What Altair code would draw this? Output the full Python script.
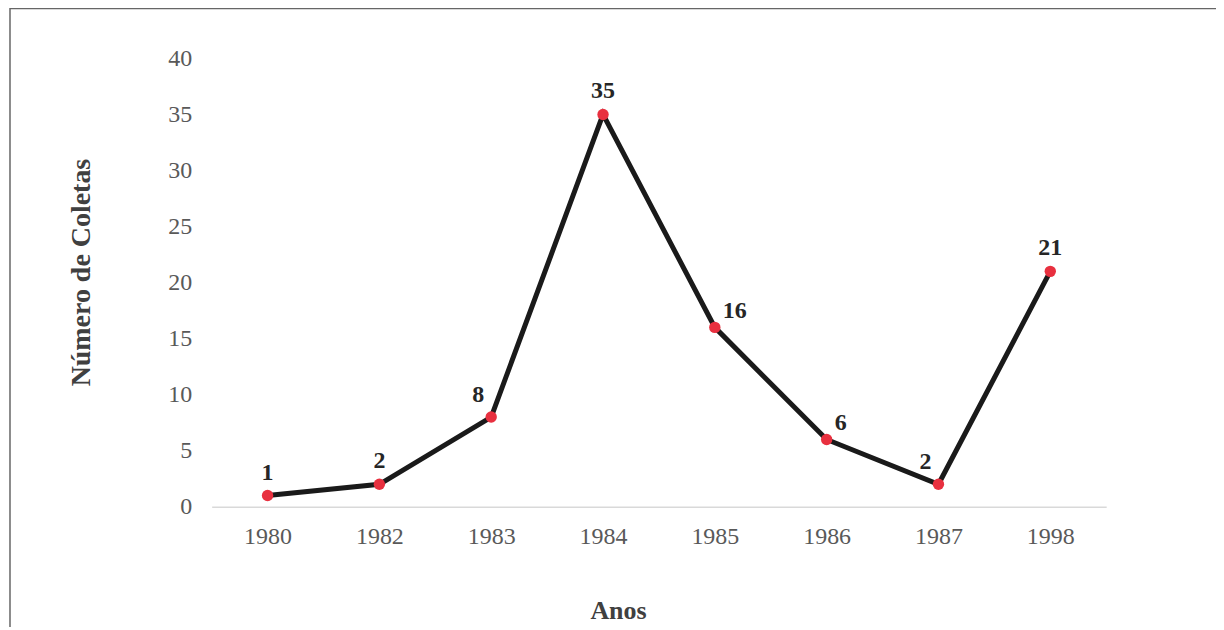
import altair as alt
import pandas as pd

anos = ["1980", "1982", "1983", "1984", "1985", "1986", "1987", "1998"]
coletas = [1, 2, 8, 35, 16, 6, 2, 21]

lbl_above = ["1980", "1982", "1984", "1998"]
lbl_right = ["1985", "1986"]
lbl_left = ["1983", "1987"]

df = pd.DataFrame({"Ano": anos, "Coletas": coletas})
FONT = "Liberation Serif"

x = alt.X("Ano:N", sort=anos, title="Anos",
          scale=alt.Scale(paddingInner=0, paddingOuter=0),
          axis=alt.Axis(labelAngle=0, ticks=False, domain=True, domainColor="#d9d9d9",
                        domainWidth=1.5, labelPadding=18, labelFontSize=24,
                        labelColor="#595959", labelFont=FONT, titleFont=FONT,
                        titleFontSize=26, titleFontWeight="bold", titleColor="#404040",
                        titleBaseline="alphabetic", titleX=407, titleY=112, grid=False))
y = alt.Y("Coletas:Q", title="Número de Coletas",
          scale=alt.Scale(domain=[0, 40]),
          axis=alt.Axis(values=list(range(0, 41, 5)), ticks=False, domain=False, grid=False,
                        labelPadding=20, labelFontSize=24, labelColor="#595959",
                        labelFont=FONT, titleFont=FONT, titleFontSize=28,
                        titleFontWeight="bold", titleColor="#404040",
                        titleBaseline="alphabetic",
                        titleX=-122, titleY=214, titleAngle=-90))

base = alt.Chart(df).encode(x=x, y=y)

line = base.mark_line(color="#1a1a1a", strokeWidth=5)
pts = base.mark_point(filled=True, color="#e8303f", size=130, opacity=1)

def labels(cats, dx, dy, align):
    return base.transform_filter(alt.FieldOneOfPredicate(field="Ano", oneOf=cats)).mark_text(
        font=FONT, fontSize=24, fontWeight="bold", color="#262626", baseline="middle",
        dx=dx, dy=dy, align=align).encode(text="Coletas:Q")

frame = alt.Chart(pd.DataFrame({"a": [0]})).mark_rect(
    fill=None, stroke="#666666", strokeWidth=1.5).encode(
    x=alt.value(-202), x2=alt.value(1009), y=alt.value(-50), y2=alt.value(700))

chart = alt.layer(
    frame, line, pts,
    labels(lbl_above, 0, -23, "center"),
    labels(lbl_right, 8, -16, "left"),
    labels(lbl_left, -13, -22, "center"),
).properties(
    width=896, height=449, background="white",
    autosize=alt.AutoSizeParams(type="none"),
    padding={"left": 204, "top": 50, "right": 110, "bottom": 120},
).configure_view(strokeWidth=0)

chart.save("out.html", embed_options={"renderer": "svg", "actions": False})
